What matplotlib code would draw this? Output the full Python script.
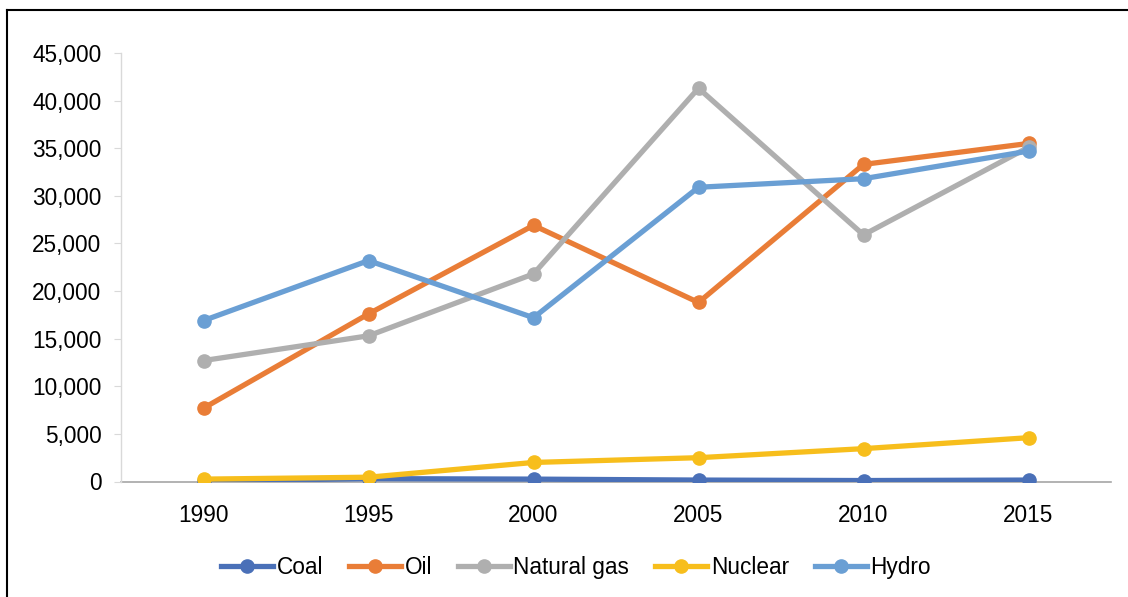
import matplotlib
matplotlib.use("Agg")
import matplotlib.pyplot as plt
from matplotlib.lines import Line2D
from matplotlib.ticker import FuncFormatter

years = ["1990", "1995", "2000", "2005", "2010", "2015"]
coal = [50, 300, 250, 150, 100, 150]
oil = [7700, 17600, 26900, 18800, 33300, 35500]
natural_gas = [12700, 15300, 21800, 41300, 25900, 35100]
nuclear = [250, 450, 2000, 2500, 3450, 4600]
hydro = [16900, 23200, 17200, 30900, 31800, 34700]

series_names = ["Coal", "Oil", "Natural gas", "Nuclear", "Hydro"]
series_values = [coal, oil, natural_gas, nuclear, hydro]
colors = ["#4A70B8", "#E97D37", "#AFAFAF", "#F7BE1C", "#6A9FD4"]

plt.rcParams['font.family'] = ['Liberation Sans', 'DejaVu Sans']

W, H = 1128, 597
FS = 16.3
fig = plt.figure(figsize=(W / 100, H / 100), dpi=100)
ax = fig.add_axes([121 / W, 1 - 481.5 / H, (1111 - 121) / W, (481.5 - 53) / H])

x = list(range(len(years)))
for name, vals, c in zip(series_names, series_values, colors):
    ax.plot(x, vals, color=c, lw=3.8, marker="o", markersize=9.5,
            label=name, solid_capstyle="round", solid_joinstyle="round")

ax.set_xlim(-0.5, len(years) - 0.5)
ax.set_ylim(0, 45000)
ax.set_yticks(range(0, 45001, 5000))
ax.yaxis.set_major_formatter(FuncFormatter(lambda v, p: f"{int(v):,}"))
ax.set_xticks(x)
ax.set_xticklabels(years)

for s in ["top", "right"]:
    ax.spines[s].set_visible(False)
ax.spines["left"].set_color("#D9D9D9")
ax.spines["left"].set_linewidth(1.0)
ax.spines["bottom"].set_color("#A6A6A6")
ax.spines["bottom"].set_linewidth(1.2)
ax.spines["bottom"].set_zorder(0)
ax.tick_params(axis="y", length=5, color="#D9D9D9", labelsize=FS, pad=9)
ax.tick_params(axis="x", length=0, labelsize=FS, pad=16)

handles = [Line2D([], [], color=c, lw=3.8, marker="o", markersize=9.5) for c in colors]
fig.legend(handles, series_names, loc="center", bbox_to_anchor=(576 / W, 1 - 567.5 / H),
           ncol=5, frameon=False, fontsize=FS, handlelength=2.3, handletextpad=0.15,
           columnspacing=1.15)

# outer frame (top and left edges visible)
fig.add_artist(Line2D([7 / W, 1.0], [1 - 10 / H, 1 - 10 / H], color="black", lw=1.5,
                      transform=fig.transFigure))
fig.add_artist(Line2D([7 / W, 7 / W], [0, 1 - 10 / H], color="black", lw=1.5,
                      transform=fig.transFigure))

fig.savefig("out.png", dpi=100)
